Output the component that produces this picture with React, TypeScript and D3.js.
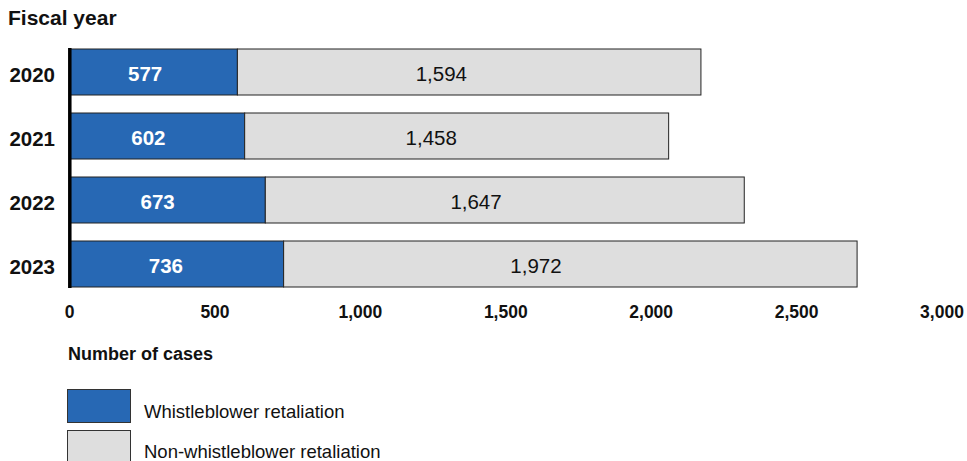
import React from "react";
import * as d3 from "d3";

const years = ["2020", "2021", "2022", "2023"];
const whistleblower = [577, 602, 673, 736];
const nonWhistleblower = [1594, 1458, 1647, 1972];
const xTicks = [0, 500, 1000, 1500, 2000, 2500, 3000];
const seriesNames = ["Whistleblower retaliation", "Non-whistleblower retaliation"];
const seriesColors = ["#2768b4", "#dedede"];

export default function App() {
  const W = 967, H = 461;
  const x = d3.scaleLinear().domain([0, 3000]).range([69.6, 942]);
  const y = d3.scaleBand().domain(years).range([40, 296]).paddingInner(0.28125).paddingOuter(0.140625);
  const fmt = d3.format(",");
  const font = "'Liberation Sans', Arial, sans-serif";
  const rows = years.map((yr, i) => ({ yr, a: whistleblower[i], b: nonWhistleblower[i] }));
  return (
    <svg width={W} height={H} style={{ position: "absolute", left: 0, top: 0 }} fontFamily={font}>
      <text x={8} y={25} fontSize={21} fontWeight="bold" fill="#111">Fiscal year</text>
      {rows.map((r) => {
        const y0 = y(r.yr)!;
        const h = y.bandwidth();
        const cy = y0 + h / 2;
        const xa0 = x(0), xa1 = x(r.a), xb1 = x(r.a + r.b);
        return (
          <g key={r.yr}>
            <rect x={xa0} y={y0} width={xa1 - xa0} height={h} fill={seriesColors[0]} stroke="#222" strokeWidth={1} />
            <rect x={xa1} y={y0} width={xb1 - xa1} height={h} fill={seriesColors[1]} stroke="#222" strokeWidth={1} />
            <text x={xa0 + (xa1 - xa0) * 0.45} y={cy + 9} textAnchor="middle" fontSize={20.5} fontWeight="bold" fill="#fff">{fmt(r.a)}</text>
            <text x={xa1 + (xb1 - xa1) * 0.44} y={cy + 9} textAnchor="middle" fontSize={20.5} fill="#111">{fmt(r.b)}</text>
            <text x={55} y={cy + 9.5} textAnchor="end" fontSize={20.5} fontWeight="bold" fill="#111">{r.yr}</text>
          </g>
        );
      })}
      <line x1={69.8} x2={69.8} y1={y(years[0])! - 1} y2={y(years[3])! + y.bandwidth() + 1} stroke="#000" strokeWidth={3.5} />
      {xTicks.map((t) => (
        <text key={t} x={x(t)} y={318} textAnchor="middle" fontSize={17.5} fontWeight="bold" fill="#111">{fmt(t)}</text>
      ))}
      <text x={68} y={360} fontSize={18} fontWeight="bold" fill="#111">Number of cases</text>
      {seriesNames.map((n, i) => (
        <g key={n}>
          <rect x={67.5} y={389.5 + i * 41} width={63} height={33} fill={seriesColors[i]} stroke="#333" strokeWidth={1} />
          <text x={144} y={418 + i * 40} fontSize={18.5} fill="#111">{n}</text>
        </g>
      ))}
    </svg>
  );
}
